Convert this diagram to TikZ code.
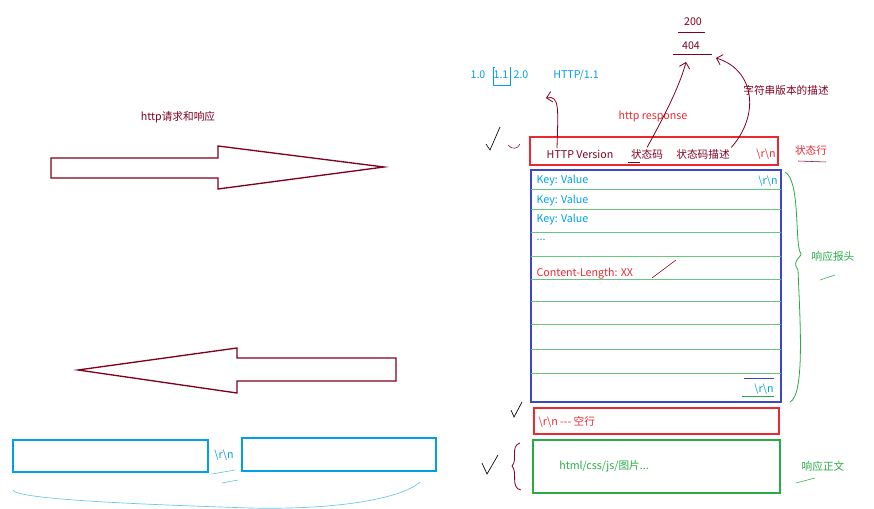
\documentclass[tikz,border=0pt]{standalone}
\usepackage{fontspec}
\setmainfont{Noto Sans CJK SC}
\usetikzlibrary{arrows.meta,positioning,decorations.pathreplacing}
\definecolor{darkred}{RGB}{128,0,32}
\definecolor{skyblue}{RGB}{0,160,230}
\definecolor{hdrblue}{RGB}{60,70,200}
\definecolor{pengreen}{RGB}{40,170,70}
\definecolor{penred}{RGB}{235,40,50}
\tikzset{
  lbl/.style = {inner sep=1pt, font=\fontsize{8}{9}\selectfont},
  rowline/.style = {pengreen!70, line width=0.5pt},
  pen/.style = {darkred, line width=0.6pt},
  tick/.style = {black, line width=0.5pt}
}
\begin{document}
\begin{tikzpicture}[x=0.75pt,y=-0.75pt]
\useasboundingbox (0,0) rectangle (874,509);
% left side: request / response arrows
\node[lbl, darkred] (title) at (178,117) {http请求和响应};
\draw[pen, line width=1pt] (51,158) -- (218,158) -- (218,146) -- (384,167) -- (218,189) -- (218,178) -- (51,178) -- cycle;
\draw[pen, line width=1pt] (396,358) -- (237,358) -- (237,348) -- (78,370) -- (237,393) -- (237,381) -- (396,381) -- cycle;
\node[draw=skyblue, line width=1pt, minimum width=146.25pt, minimum height=24pt, inner sep=0pt] (head) at (110.5,456) {};
\node[draw=skyblue, line width=1pt, minimum width=145.5pt, minimum height=24.75pt, inner sep=0pt] (body) at (339,454.5) {};
\node[lbl, skyblue] (sep) at (224,455) {\textbackslash r\textbackslash n};
\draw[skyblue!60, line width=0.5pt] (13,490) .. controls (15,500) and (160,505) .. (250,508) .. controls (330,510) and (400,500) .. (420,482);
\draw[skyblue!70] (212,474) -- (235,470) (222,483) -- (238,480);
% status line
\node[draw=penred, line width=1pt, minimum width=186pt, minimum height=21pt, inner sep=0pt] (status) at (654,151) {};
\node[lbl, darkred] (ver) at (580,154) {HTTP Version};
\node[lbl, darkred] (code) at (647,154) {状态码};
\node[lbl, darkred] (desc) at (703,154) {状态码描述};
\node[lbl, penred] (crlf1) at (766,154) {\textbackslash r\textbackslash n};
\node[lbl, penred] (statusnote) at (811,150) {状态行};
\draw[darkred] (798,161) -- (826,162);
\draw[darkred] (628,162) -- (640,162);
% top annotations
\node[lbl, darkred] (ok) at (693,22) {200};
\node[lbl, darkred] (nf) at (691,46) {404};
\draw[darkred] (678,32) -- (705,32) (673,54) -- (712,54);
\node[lbl, skyblue] (v10) at (478,75) {1.0};
\node[lbl, skyblue] (v11) at (501,75) {1.1};
\node[lbl, skyblue] (v20) at (521,75) {2.0};
\draw[skyblue, line width=0.4pt] (495,67) -- (493,67) -- (493,85) -- (510,85) -- (510,67);
\node[lbl, skyblue] (proto) at (576,75) {HTTP/1.1};
\node[lbl, penred] (resp) at (653,116) {http response};
\node[lbl, darkred] (strdesc) at (786,90) {字符串版本的描述};
\draw[pen, -{Straight Barb[length=4pt]}] (ver.north -| 557,137) .. controls (558,110) and (560,95) .. (546,98);
\draw[pen, -{Straight Barb[length=4pt]}] (code.north) .. controls (665,115) and (680,85) .. (686,62);
\draw[pen, -{Straight Barb[length=4pt]}] (desc.north east) .. controls (760,115) and (755,70) .. (716,58);
% header block
\node[draw=hdrblue, line width=1pt, minimum width=187.5pt, minimum height=174pt, inner sep=0pt] (hdr) at (656,286) {};
\foreach \y in {189,209,232,256,279,301,324,349,373}
  \draw[rowline] (531,\y) -- (781,\y);
\node[lbl, skyblue, anchor=west] (kv1) at (535,181) {Key: Value};
\node[lbl, skyblue, anchor=west] (kv2) at (535,201) {Key: Value};
\node[lbl, skyblue, anchor=west] (kv3) at (535,220) {Key: Value};
\node[lbl, skyblue, anchor=west] (dots) at (535,240) {...};
\node[lbl, penred, anchor=west] (len) at (535,274) {Content-Length: XX};
\node[lbl, skyblue] (crlf2) at (768,181) {\textbackslash r\textbackslash n};
\node[lbl, skyblue] (crlf3) at (764,389) {\textbackslash r\textbackslash n};
\draw[hdrblue] (744,378) -- (774,378);
\draw[pengreen] (742,396) -- (774,396);
\draw[darkred] (652,278) -- (676,260);
\draw[pengreen, line width=0.6pt] (785,172) .. controls (800,180) and (795,240) .. (800,252) .. controls (805,256) and (790,260) .. (798,270) .. controls (800,320) and (805,395) .. (790,402);
\node[lbl, pengreen] (hdrnote) at (833,256) {响应报头};
\draw[pengreen] (820,280) -- (835,275);
% blank line and body
\node[draw=penred, line width=1pt, minimum width=183.75pt, minimum height=19.5pt, inner sep=0pt] (blank) at (656.5,421) {};
\node[lbl, penred, anchor=west] (blanktxt) at (537,422) {\textbackslash r\textbackslash n -{}-{}- 空行};
\node[draw=pengreen, line width=1pt, minimum width=185.25pt, minimum height=39.75pt, inner sep=0pt] (content) at (656.5,466.5) {};
\node[lbl, pengreen] (ctext) at (604,466) {html/css/js/图片...};
\node[lbl, pengreen] (bodynote) at (823,466) {响应正文};
\draw[pengreen] (796,483) -- (815,478);
\draw[pen] (520,443) .. controls (510,446) and (518,460) .. (512,466) .. controls (518,472) and (510,488) .. (521,490);
% check marks
\draw[tick] (486,144) -- (490,150) -- (500,127);
\draw[darkred] (508,145) .. controls (512,150) and (518,149) .. (520,144);
\draw[tick] (511,410) -- (514,417) -- (522,402);
\draw[tick] (482,463) -- (487,474) -- (498,455);
\end{tikzpicture}
\end{document}
